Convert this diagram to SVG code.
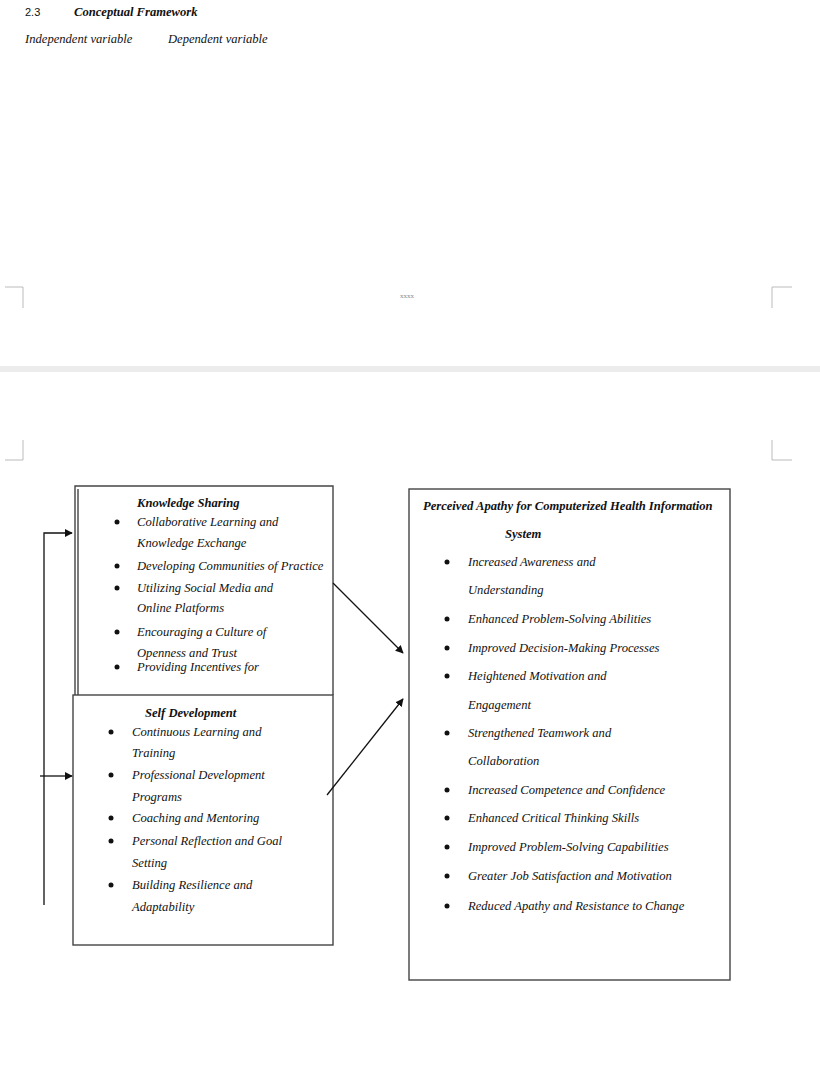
<svg xmlns="http://www.w3.org/2000/svg" width="820" height="1080" viewBox="0 0 820 1080">
<defs>
<style>
.t{font-family:"Liberation Serif",serif;font-style:italic;font-size:12.6px;fill:#111}
.b{font-weight:bold}
.box{fill:none;stroke:#444;stroke-width:1.4}
.ln{fill:none;stroke:#111;stroke-width:1.3}
.crop{fill:none;stroke:#bbb;stroke-width:1}
.dot{fill:#111}
</style>
<marker id="ah" viewBox="0 0 10 10" refX="9" refY="5" markerWidth="8" markerHeight="8" markerUnits="userSpaceOnUse" orient="auto">
<path d="M0,0 L10,5 L0,10 z" fill="#111"/>
</marker>
</defs>
<rect width="820" height="1080" fill="#fff"/>

<g id="header">
<text class="t" x="25" y="16" style="font-style:normal;font-family:'Liberation Sans',sans-serif;font-size:11px">2.3</text>
<text class="t b" x="74" y="16">Conceptual Framework</text>
<text class="t" x="25" y="43">Independent variable</text>
<text class="t" x="168" y="43">Dependent variable</text>
</g>

<g id="page-break">
<path class="crop" d="M5,287 H23 V308"/>
<path class="crop" d="M5,460 H23 V440"/>
<path class="crop" d="M792,287 H772 V308"/>
<path class="crop" d="M792,460 H772 V440"/>
<text x="400" y="298" style="font-family:'Liberation Serif',serif;font-size:7px;fill:#888">xxxx</text>
<rect x="0" y="366" width="820" height="6" fill="#ececec"/>
</g>

<g id="knowledge-sharing">
<path class="box" d="M75,695 V486 H333 V695"/>
<line class="box" x1="78" y1="489" x2="78" y2="695"/>
<text class="t b" x="137" y="507">Knowledge Sharing</text>
<circle class="dot" cx="117" cy="522" r="2.5"/>
<text class="t" x="137" y="526">Collaborative Learning and</text>
<text class="t" x="137" y="547">Knowledge Exchange</text>
<circle class="dot" cx="117" cy="566" r="2.5"/>
<text class="t" x="137" y="570">Developing Communities of Practice</text>
<circle class="dot" cx="117" cy="588" r="2.5"/>
<text class="t" x="137" y="592">Utilizing Social Media and</text>
<text class="t" x="137" y="612">Online Platforms</text>
<circle class="dot" cx="117" cy="632" r="2.5"/>
<text class="t" x="137" y="636">Encouraging a Culture of</text>
<text class="t" x="137" y="657">Openness and Trust</text>
<circle class="dot" cx="117" cy="667" r="2.5"/>
<text class="t" x="137" y="671">Providing Incentives for</text>
</g>

<g id="self-development">
<rect class="box" x="73" y="695" width="260" height="250"/>
<text class="t b" x="145" y="717">Self Development</text>
<circle class="dot" cx="111" cy="732" r="2.5"/>
<text class="t" x="132" y="736">Continuous Learning and</text>
<text class="t" x="132" y="757">Training</text>
<circle class="dot" cx="111" cy="775" r="2.5"/>
<text class="t" x="132" y="779">Professional Development</text>
<text class="t" x="132" y="801">Programs</text>
<circle class="dot" cx="111" cy="818" r="2.5"/>
<text class="t" x="132" y="822">Coaching and Mentoring</text>
<circle class="dot" cx="111" cy="841" r="2.5"/>
<text class="t" x="132" y="845">Personal Reflection and Goal</text>
<text class="t" x="132" y="867">Setting</text>
<circle class="dot" cx="111" cy="885" r="2.5"/>
<text class="t" x="132" y="889">Building Resilience and</text>
<text class="t" x="132" y="911">Adaptability</text>
</g>

<g id="apathy">
<rect class="box" x="409" y="489" width="321" height="491"/>
<text class="t b" x="423" y="510">Perceived Apathy for Computerized Health Information</text>
<text class="t b" x="505" y="538">System</text>
<circle class="dot" cx="447" cy="562" r="2.5"/>
<text class="t" x="468" y="566">Increased Awareness and</text>
<text class="t" x="468" y="594">Understanding</text>
<circle class="dot" cx="447" cy="619" r="2.5"/>
<text class="t" x="468" y="623">Enhanced Problem-Solving Abilities</text>
<circle class="dot" cx="447" cy="648" r="2.5"/>
<text class="t" x="468" y="652">Improved Decision-Making Processes</text>
<circle class="dot" cx="447" cy="676" r="2.5"/>
<text class="t" x="468" y="680">Heightened Motivation and</text>
<text class="t" x="468" y="709">Engagement</text>
<circle class="dot" cx="447" cy="733" r="2.5"/>
<text class="t" x="468" y="737">Strengthened Teamwork and</text>
<text class="t" x="468" y="765">Collaboration</text>
<circle class="dot" cx="447" cy="790" r="2.5"/>
<text class="t" x="468" y="794">Increased Competence and Confidence</text>
<circle class="dot" cx="447" cy="818" r="2.5"/>
<text class="t" x="468" y="822">Enhanced Critical Thinking Skills</text>
<circle class="dot" cx="447" cy="847" r="2.5"/>
<text class="t" x="468" y="851">Improved Problem-Solving Capabilities</text>
<circle class="dot" cx="447" cy="876" r="2.5"/>
<text class="t" x="468" y="880">Greater Job Satisfaction and Motivation</text>
<circle class="dot" cx="447" cy="906" r="2.5"/>
<text class="t" x="468" y="910">Reduced Apathy and Resistance to Change</text>
</g>

<g id="connectors">
<path class="ln" d="M44,905 V533 H72" marker-end="url(#ah)"/>
<line class="ln" x1="40" y1="776" x2="72" y2="776" marker-end="url(#ah)"/>
<line class="ln" x1="333" y1="583" x2="403" y2="653" marker-end="url(#ah)"/>
<line class="ln" x1="327" y1="795" x2="403" y2="699" marker-end="url(#ah)"/>
</g>
</svg>
